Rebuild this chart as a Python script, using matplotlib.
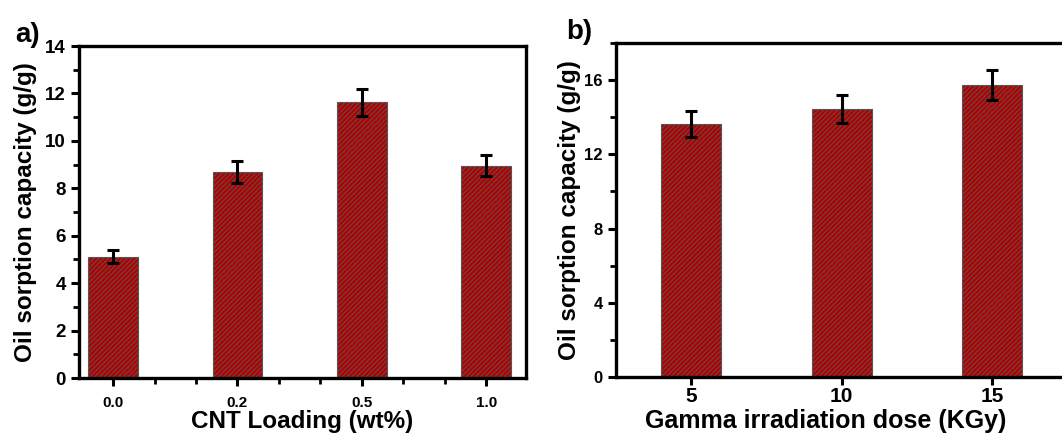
import matplotlib
matplotlib.use("Agg")
import matplotlib.pyplot as plt
import numpy as np
from matplotlib.ticker import MultipleLocator, FixedLocator

# panel a data
cnt_labels = ["0.0", "0.2", "0.5", "1.0"]
cnt_sorption = [5.12, 8.7, 11.62, 8.95]
cnt_err = [0.26, 0.46, 0.56, 0.45]

# panel b data
dose_labels = ["5", "10", "15"]
dose_sorption = [13.65, 14.45, 15.75]
dose_err = [0.71, 0.77, 0.8]

plt.rcParams['font.family'] = ['Liberation Sans', 'DejaVu Sans']
plt.rcParams['font.weight'] = 'bold'
plt.rcParams['hatch.linewidth'] = 0.7
plt.rcParams['hatch.color'] = 'black'

bar_color = '#b30000'
hatch = '/' * 7

fig = plt.figure(figsize=(10.62, 4.37), dpi=100)

ax1 = fig.add_axes([0.0744, 0.135, 0.4209, 0.7597])
ax2 = fig.add_axes([0.58, 0.1373, 0.425, 0.7643])


def style_axes(ax):
    for s in ax.spines.values():
        s.set_linewidth(2.4)
    ax.tick_params(which='major', direction='out', length=6, width=2.2,
                   top=False, right=False)
    ax.tick_params(which='minor', direction='out', length=4, width=2.0,
                   top=False, right=False)


# ---- a) ----
xa = np.arange(len(cnt_labels))
ax1.bar(xa, cnt_sorption, width=0.4, color=bar_color, edgecolor='#555555',
        linewidth=0.8, hatch=hatch, zorder=2)
ax1.errorbar(xa, cnt_sorption, yerr=cnt_err, fmt='none', ecolor='black',
             elinewidth=2.2, capsize=4, capthick=2.2, zorder=3)
ax1.set_xlim(-0.274, 3.32)
ax1.set_ylim(0, 14)
ax1.set_xticks(xa)
ax1.set_xticklabels(cnt_labels, fontsize=11, fontweight='bold')
ax1.xaxis.set_minor_locator(FixedLocator(np.arange(1, 10) / 3.0))
ax1.yaxis.set_major_locator(MultipleLocator(2))
ax1.yaxis.set_minor_locator(MultipleLocator(1))
for lab in ax1.get_yticklabels():
    lab.set_fontsize(13.5)
    lab.set_fontweight('bold')
style_axes(ax1)
ax1.tick_params(axis='x', which='major', pad=7)
ax1.set_xlabel("CNT Loading (wt%)", fontsize=17.5, fontweight='bold', labelpad=0)
ax1.set_ylabel("Oil sorption capacity (g/g)", fontsize=17.5, fontweight='bold',
               labelpad=6)
fig.text(0.014, 0.905, "a)", fontsize=20, fontweight='bold')

# ---- b) ----
xb = np.arange(len(dose_labels))
ax2.bar(xb, dose_sorption, width=0.4, color=bar_color, edgecolor='#555555',
        linewidth=0.8, hatch=hatch, zorder=2)
ax2.errorbar(xb, dose_sorption, yerr=dose_err, fmt='none', ecolor='black',
             elinewidth=2.2, capsize=4, capthick=2.2, zorder=3)
ax2.set_xlim(-0.5, 2.5)
ax2.set_ylim(0, 18)
ax2.set_xticks(xb)
ax2.set_xticklabels(dose_labels, fontsize=15, fontweight='bold')
ax2.yaxis.set_major_locator(MultipleLocator(4))
ax2.yaxis.set_minor_locator(MultipleLocator(2))
for lab in ax2.get_yticklabels():
    lab.set_fontsize(12)
    lab.set_fontweight('bold')
style_axes(ax2)
ax2.tick_params(axis='x', which='major', pad=1)
ax2.set_xlabel("Gamma irradiation dose (KGy)", fontsize=18, fontweight='bold')
ax2.xaxis.set_label_coords(0.465, -0.095)
ax2.set_ylabel("Oil sorption capacity (g/g)", fontsize=17.5, fontweight='bold',
               labelpad=2)
fig.text(0.533, 0.91, "b)", fontsize=20, fontweight='bold')

fig.savefig("out.png", dpi=100)
